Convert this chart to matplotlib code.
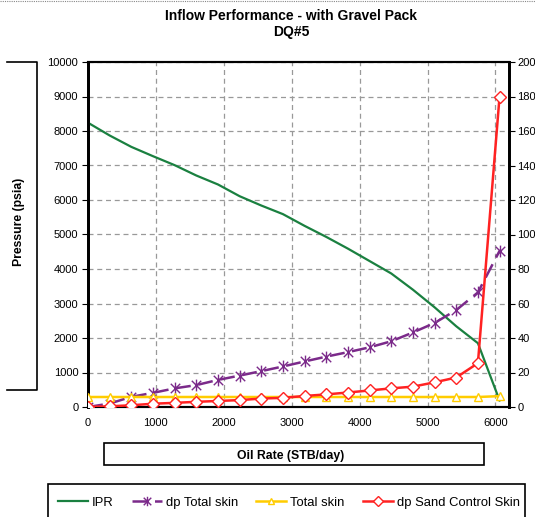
import matplotlib
matplotlib.use("Agg")
import matplotlib.pyplot as plt
from matplotlib.path import Path
from matplotlib.patches import Rectangle
from matplotlib.lines import Line2D

plt.rcParams['font.family'] = ['Liberation Sans', 'DejaVu Sans']

# oil rate (STB/day)
rate = [0, 319, 638, 957, 1276, 1595, 1914, 2233, 2552, 2871,
        3190, 3509, 3828, 4147, 4466, 4785, 5104, 5423, 5742, 6061]
# pressure, psia (left axis)
ipr = [8240, 7870, 7540, 7270, 7010, 6710, 6450, 6110, 5840, 5590,
       5250, 4930, 4590, 4230, 3870, 3400, 2890, 2340, 1850, 190]
# right axis series
dp_total_skin = [0, 2.0, 5.9, 8.2, 10.8, 12.7, 15.7, 18.2, 20.8, 23.5,
                 26.4, 29.2, 31.8, 34.6, 38.1, 43.2, 48.7, 56.2, 66.4, 90.5]
total_skin = [5.8, 5.8, 5.8, 5.8, 5.8, 5.8, 5.8, 5.8, 5.8, 5.8,
              5.8, 5.8, 5.8, 5.8, 5.8, 5.8, 5.8, 5.8, 5.8, 6.3]
dp_sand_skin = [0, 0.4, 1.0, 1.9, 2.4, 3.0, 3.5, 4.0, 4.9, 5.3,
                6.4, 7.3, 8.4, 9.6, 10.8, 11.8, 14.3, 17.1, 25.4, 180]

GREEN = '#1a8040'
PURPLE = '#7b2a8a'
YELLOW = '#ffcc00'
RED = '#ff2222'

# excel style star marker: X plus vertical bar
star = Path([(0, -1), (0, 1), (-0.8, -0.8), (0.8, 0.8), (-0.8, 0.8), (0.8, -0.8)],
            [Path.MOVETO, Path.LINETO, Path.MOVETO, Path.LINETO, Path.MOVETO, Path.LINETO])

W, H = 535, 517
fig = plt.figure(figsize=(W / 100, H / 100), dpi=100)
ax = fig.add_axes([88 / W, 1 - 407 / H, (509 - 88) / W, (407 - 62) / H])
ax2 = ax.twinx()

ax.plot(rate, ipr, color=GREEN, lw=1.6, label='IPR', zorder=3)
ax2.plot(rate, dp_total_skin, color=PURPLE, lw=1.8, dashes=(6, 3), marker=star,
         ms=8.5, mew=1.0, label='dp Total skin', zorder=3)
ax2.plot(rate, total_skin, color=YELLOW, lw=1.8, marker='^', ms=6, mfc='white',
         mew=1.0, label='Total skin', zorder=4)
ax2.plot(rate, dp_sand_skin, color=RED, lw=1.8, marker='D', ms=6.5, mfc='white',
         mew=1.0, label='dp Sand Control Skin', zorder=5)

ax.set_xlim(0, 6200)
ax.set_ylim(0, 10000)
ax2.set_ylim(0, 200)
ax.set_xticks(range(0, 7000, 1000))
ax.set_yticks(range(0, 11000, 1000))
ax2.set_yticks(range(0, 220, 20))
ax.grid(True, color='#999999', ls=(0, (4, 3)), lw=0.9)
ax.set_axisbelow(True)

for a in (ax, ax2):
    for s in a.spines.values():
        s.set_color('black')
    a.spines['left'].set_linewidth(2)
    a.spines['right'].set_linewidth(2)
    a.spines['top'].set_linewidth(1.5)
    a.spines['bottom'].set_linewidth(1.5)
ax.tick_params(axis='y', labelsize=8, length=4, width=0.8, pad=3)
ax.tick_params(axis='x', labelsize=8, length=0, pad=8)
ax2.tick_params(axis='y', labelsize=8, length=4, width=0.8, pad=2)

fig.text(291 / W, 1 - 16 / H, 'Inflow Performance - with Gravel Pack', ha='center',
         va='center', fontsize=10, fontweight='bold')
fig.text(291 / W, 1 - 32 / H, 'DQ#5', ha='center', va='center', fontsize=10,
         fontweight='bold')

# y label box (left part runs off the figure)
fig.add_artist(Line2D([7 / W, 37 / W, 37 / W, 7 / W],
                      [1 - 62 / H, 1 - 62 / H, 1 - 390 / H, 1 - 390 / H],
                      color='black', lw=1.2, transform=fig.transFigure))
fig.text(19 / W, 1 - 222 / H, 'Pressure (psia)', rotation=90, ha='center',
         va='center', fontsize=8.8, fontweight='bold')

# x label box
fig.add_artist(Rectangle((104 / W, 1 - 465 / H), 380 / W, 22 / H, fill=False,
                         ec='black', lw=1.2, transform=fig.transFigure))
fig.text(291 / W, 1 - 456 / H, 'Oil Rate (STB/day)', ha='center', va='center',
         fontsize=8.8, fontweight='bold')

# legend box, cut off at the bottom edge
fig.add_artist(Rectangle((48 / W, -10 / H), 477 / W, (517 - 484 + 10) / H, fill=False,
                         ec='black', lw=1.2, transform=fig.transFigure))
h1, l1 = ax.get_legend_handles_labels()
h2, l2 = ax2.get_legend_handles_labels()
fig.legend(h1 + h2, l1 + l2, ncol=4, frameon=False, fontsize=9.4,
           loc='center', bbox_to_anchor=(289 / W, 1 - 503 / H),
           handlelength=2.3, handletextpad=0.3, columnspacing=1.4, markerscale=0.8)

# dotted frame line along the top
fig.add_artist(Line2D([0, 1], [1 - 0.8 / H, 1 - 0.8 / H], color='#888888', lw=0.8,
                      ls=(0, (1, 1)), transform=fig.transFigure))

fig.savefig('out.png', dpi=100)
